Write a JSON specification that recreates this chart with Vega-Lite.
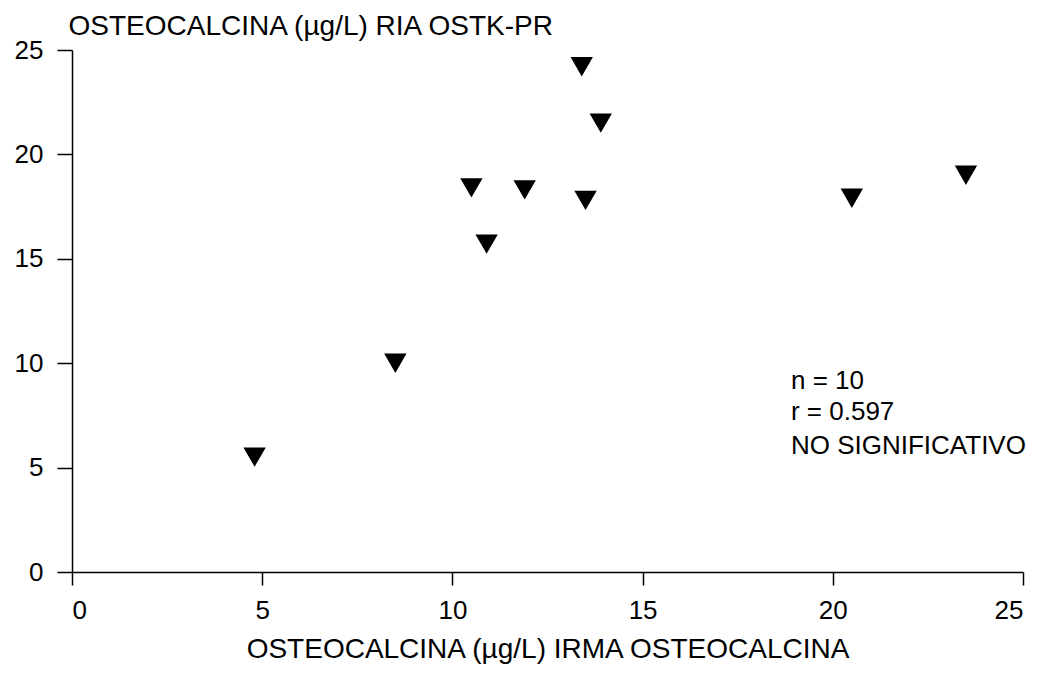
{
  "$schema": "https://vega.github.io/schema/vega-lite/v6.json",
  "width": 951,
  "height": 522,
  "autosize": "none",
  "padding": {"left": 72, "top": 50, "right": 20, "bottom": 116},
  "background": "white",
  "config": {
    "view": {"stroke": null},
    "font": "Liberation Sans",
    "axis": {
      "grid": false,
      "domainColor": "black",
      "domainWidth": 1.5,
      "tickColor": "black",
      "tickWidth": 1.5,
      "labelColor": "black",
      "labelFont": "Liberation Sans",
      "labelFontSize": 26,
      "titleColor": "black",
      "titleFont": "Liberation Sans",
      "titleFontSize": 28,
      "titleFontWeight": "normal"
    }
  },
  "datasets": {
    "points": [
      {"irma": 4.8, "ria": 5.5},
      {"irma": 8.5, "ria": 10.0},
      {"irma": 10.5, "ria": 18.4},
      {"irma": 10.9, "ria": 15.7},
      {"irma": 11.9, "ria": 18.3},
      {"irma": 13.4, "ria": 24.2},
      {"irma": 13.5, "ria": 17.8},
      {"irma": 13.9, "ria": 21.5},
      {"irma": 20.5, "ria": 17.9},
      {"irma": 23.5, "ria": 19.0}
    ],
    "notes": [
      {"x": 18.9, "y": 9.15, "label": "n = 10"},
      {"x": 18.9, "y": 7.66, "label": "r = 0.597"},
      {"x": 18.9, "y": 6.03, "label": "NO SIGNIFICATIVO"}
    ]
  },
  "layer": [
    {
      "data": {"name": "points"},
      "mark": {"type": "point", "shape": "triangle-down", "filled": true, "color": "black", "opacity": 1, "size": 500, "strokeWidth": 0},
      "encoding": {
        "x": {
          "field": "irma", "type": "quantitative",
          "scale": {"domain": [0, 25], "nice": false, "zero": true},
          "axis": {"values": [0, 5, 10, 15, 20, 25], "tickSize": 13, "labelPadding": 12, "title": "OSTEOCALCINA (µg/L) IRMA OSTEOCALCINA", "titleBaseline": "alphabetic", "titleY": 85}
        },
        "y": {
          "field": "ria", "type": "quantitative",
          "scale": {"domain": [0, 25], "nice": false},
          "axis": {"values": [0, 5, 10, 15, 20, 25], "tickSize": 15, "labelPadding": 14, "title": "OSTEOCALCINA (µg/L) RIA OSTK-PR", "titleAngle": 0, "titleAlign": "left", "titleBaseline": "alphabetic", "titleX": -4, "titleY": -16}
        }
      }
    },
    {
      "data": {"name": "notes"},
      "mark": {"type": "text", "align": "left", "baseline": "middle", "fontSize": 26, "font": "Liberation Sans", "color": "black"},
      "encoding": {
        "x": {"field": "x", "type": "quantitative"},
        "y": {"field": "y", "type": "quantitative"},
        "text": {"field": "label"}
      }
    }
  ]
}
